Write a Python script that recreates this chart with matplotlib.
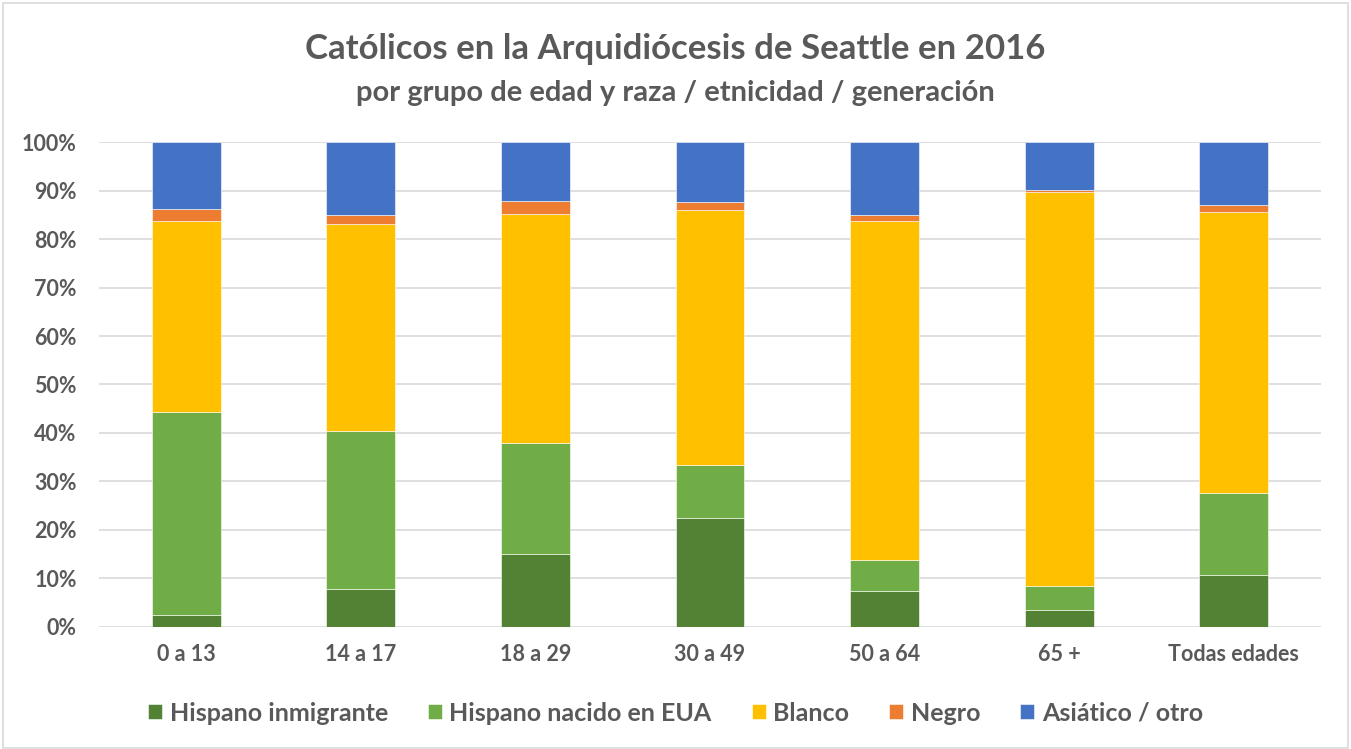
import matplotlib
matplotlib.use("Agg")
import matplotlib.pyplot as plt
import numpy as np
from matplotlib.patches import Rectangle

categories = ["0 a 13", "14 a 17", "18 a 29", "30 a 49", "50 a 64", "65 +", "Todas edades"]
series_names = ["Hispano inmigrante", "Hispano nacido en EUA", "Blanco", "Negro", "Asiático / otro"]
hispano_inmigrante = [2.5, 7.8, 15.1, 22.4, 7.4, 3.6, 10.8]
hispano_nacido = [41.9, 32.6, 22.8, 11.0, 6.4, 4.9, 16.9]
blanco = [39.4, 42.7, 47.3, 52.6, 70.0, 81.1, 57.8]
negro = [2.4, 1.9, 2.7, 1.7, 1.1, 0.6, 1.6]
asiatico = [13.8, 15.0, 12.1, 12.3, 15.1, 9.8, 12.9]
colors = ["#548235", "#70AD47", "#FFC000", "#ED7D31", "#4472C4"]

data = [hispano_inmigrante, hispano_nacido, blanco, negro, asiatico]

plt.rcParams['font.family'] = ['Lato', 'DejaVu Sans']
txt = "#595959"

fig = plt.figure(figsize=(13.51, 7.49), dpi=100)
fig.patches.append(Rectangle((0.002, 0.002), 0.996, 0.994, transform=fig.transFigure,
                             fill=False, edgecolor="#D9D9D9", linewidth=1.2))
ax = fig.add_axes([0.0733, 0.1629, 0.9045, 0.6475])

x = np.arange(len(categories))
bottom = np.zeros(len(categories))
for name, vals, c in zip(series_names, data, colors):
    v = np.array(vals) / 100.0
    ax.bar(x, v, width=0.395, bottom=bottom, color=c, label=name,
           edgecolor="white", linewidth=0.4, zorder=3)
    bottom += v

ax.set_xlim(-0.5, len(categories) - 0.5)
ax.set_ylim(0, 1)
ax.set_yticks(np.arange(0, 1.01, 0.1))
ax.set_yticklabels([f"{int(round(t*100))}%" for t in np.arange(0, 1.01, 0.1)])
ax.set_xticks(x)
ax.set_xticklabels(categories)
for lab in ax.get_xticklabels() + ax.get_yticklabels():
    lab.set_fontweight("bold")
    lab.set_fontsize(15.5)
    lab.set_color(txt)
ax.tick_params(axis="both", length=0)
ax.tick_params(axis="x", pad=12)
ax.tick_params(axis="y", pad=16)
ax.grid(axis="y", color="#D9D9D9", linewidth=1.2, zorder=0)
for s in ax.spines.values():
    s.set_visible(False)

fig.text(0.5, 0.934, "Católicos en la Arquidiócesis de Seattle en 2016", ha="center", va="center",
         fontsize=25, fontweight="bold", color=txt)
fig.text(0.5, 0.876, "por grupo de edad y raza / etnicidad / generación", ha="center", va="center",
         fontsize=21, fontweight="bold", color=txt)

leg = fig.legend(loc="center", bbox_to_anchor=(0.5, 0.048), ncol=5, frameon=False,
                 prop={"weight": "bold", "size": 18}, handlelength=0.56, handleheight=0.56,
                 columnspacing=1.6, handletextpad=0.3)
for t in leg.get_texts():
    t.set_color(txt)

fig.savefig("out.png", dpi=100)
